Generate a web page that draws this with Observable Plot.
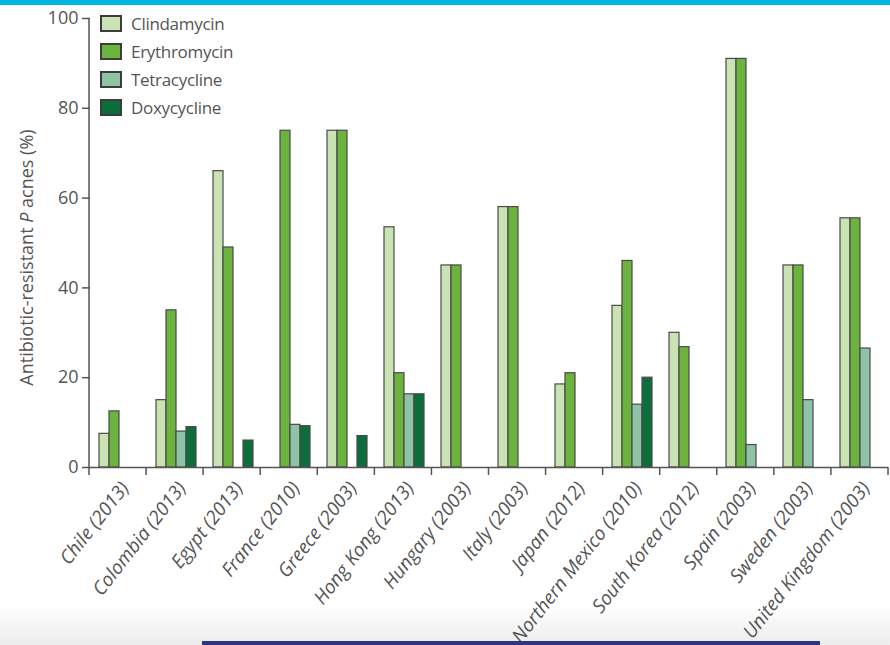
<!DOCTYPE html>
<html><head><meta charset="utf-8">
<script src="https://cdn.jsdelivr.net/npm/d3@7"></script>
<script src="https://cdn.jsdelivr.net/npm/@observablehq/plot@0.6"></script>
<style>
body{margin:0;background:#fff;}
#wrap{position:relative;width:890px;height:645px;overflow:hidden;font-family:"Open Sans",sans-serif;background:#fff;}
#shade{position:absolute;left:0;top:605px;width:890px;height:40px;background:linear-gradient(to bottom,rgba(240,240,240,0),#ececec);}
#topbar{position:absolute;left:0;top:0;width:890px;height:5px;background:#00b4e4;}
#chart{position:absolute;left:0;top:0;}
#navy{position:absolute;left:202px;top:641px;width:618px;height:4px;background:#2d3483;}
#legend{position:absolute;left:100px;top:9px;}
.item{display:flex;align-items:center;height:28px;}
.sw{width:18px;height:13px;border:2px solid #3c3c3c;margin-right:9px;}
.lb{font-size:17px;color:#555;letter-spacing:-0.3px;}
</style></head><body>
<div id="wrap">
<div id="shade"></div>
<div id="topbar"></div>
<div id="chart"></div>
<div id="legend"></div>
<div id="navy"></div>
</div>
<script>
const countries = ["Chile (2013)","Colombia (2013)","Egypt (2013)","France (2010)","Greece (2003)","Hong Kong (2013)","Hungary (2003)","Italy (2003)","Japan (2012)","Northern Mexico (2010)","South Korea (2012)","Spain (2003)","Sweden (2003)","United Kingdom (2003)"];
const antibiotics = ["Clindamycin","Erythromycin","Tetracycline","Doxycycline"];
const clindamycin  = [7.5, 15, 66, null, 75, 53.5, 45, 58, 18.5, 36, 30, 91, 45, 55.5];
const erythromycin = [12.5, 35, 49, 75, 75, 21, 45, 58, 21, 46, 26.8, 91, 45, 55.5];
const tetracycline = [null, 8, null, 9.5, null, 16.3, null, null, null, 14, null, 5, 15, 26.5];
const doxycycline  = [null, 9, 6, 9.2, 7, 16.3, null, null, null, 20, null, null, null, null];
const colors = ["#c9e3b5","#6cb33e","#8fc3a7","#0b6e3b"];
const yTicks = [0, 20, 40, 60, 80, 100];

const series = [clindamycin, erythromycin, tetracycline, doxycycline];
const data = countries.flatMap((c, i) => antibiotics.map((a, j) => ({country: c, antibiotic: a, value: series[j][i]})))
  .filter(d => d.value != null);

const chart = Plot.plot({
  width: 890, height: 645,
  marginLeft: 89, marginRight: 2, marginTop: 18, marginBottom: 178,
  style: {background: "transparent", fontFamily: "'Open Sans', sans-serif", overflow: "visible"},
  fx: {domain: countries, paddingInner: 0, paddingOuter: 0, label: null},
  x: {domain: antibiotics, paddingInner: 0, paddingOuter: 0.85, axis: null},
  y: {domain: [0, 100], label: null},
  color: {domain: antibiotics, range: colors},
  marks: [
    Plot.barY(data, {fx: "country", x: "antibiotic", y: "value", fill: "antibiotic", stroke: "#4a4a4a", strokeWidth: 1.2, inset: 0}),
    Plot.ruleY([0], {stroke: "#555", strokeWidth: 1.5}),
    Plot.axisY({ticks: yTicks, tickSize: 8, tickPadding: 4, fontSize: 18, color: "#555", label: null, strokeWidth: 1.5}),
    Plot.axisFx({anchor: "bottom", tickSize: 0, tickRotate: -52, textAnchor: "end", fontSize: 19, fontStyle: "italic", color: "#555", label: null, tickPadding: 17, dx: 6})
  ]
});
document.getElementById("chart").appendChild(chart);

const svg = d3.select(chart);
const fxs = chart.scale("fx");
const band = d3.scaleBand(fxs.domain, fxs.range).paddingInner(0).paddingOuter(0);
const ys = chart.scale("y");
const y0 = ys.apply(0), y100 = ys.apply(100);
const xs = countries.map(c => band(c)).concat([fxs.range[1]]);
const g = svg.append("g").attr("stroke", "#555").attr("stroke-width", 1.5);
g.selectAll("line.t").data(xs).join("line").attr("x1", d => d).attr("x2", d => d).attr("y1", y0).attr("y2", y0 + 8);
g.append("line").attr("x1", fxs.range[0]).attr("x2", fxs.range[0]).attr("y1", y0).attr("y2", y100);
const lab = svg.append("text").attr("transform", `translate(33,${(y0 + y100) / 2 + 15}) rotate(-90)`)
  .attr("text-anchor", "middle").attr("fill", "#555").attr("font-size", 18);
lab.append("tspan").text("Antibiotic-resistant ");
lab.append("tspan").attr("font-style", "italic").text("P");
lab.append("tspan").text(" acnes (%)");

const legend = d3.select("#legend");
antibiotics.forEach((a, i) => {
  const it = legend.append("div").attr("class", "item");
  it.append("div").attr("class", "sw").style("background", colors[i]);
  it.append("div").attr("class", "lb").text(a);
});
</script>
</body></html>
